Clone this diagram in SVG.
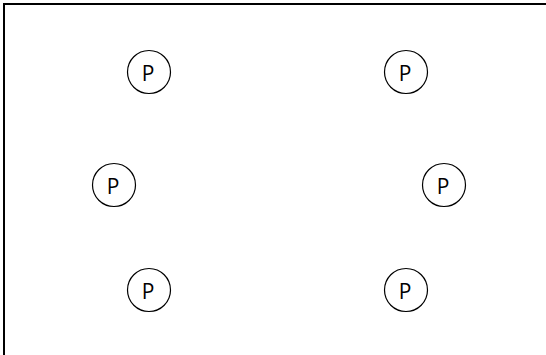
<svg xmlns="http://www.w3.org/2000/svg" width="546" height="355" viewBox="0 0 546 355">
<style>
.n circle{fill:#fff;stroke:#000;stroke-width:1.2}
.n text{font-family:"Open Sans","Noto Sans",sans-serif;font-size:21px;font-weight:500;fill:#000;text-anchor:middle}
</style>
<rect width="546" height="355" fill="#fff"/>
<rect id="frame" x="4" y="4" width="580" height="400" fill="none" stroke="#000" stroke-width="2"/>
<g id="connectors"></g>
<g id="p1" class="n"><circle cx="149" cy="72" r="21.5"/><text x="148" y="81">P</text></g>
<g id="p2" class="n"><circle cx="406" cy="72" r="21.5"/><text x="405" y="81">P</text></g>
<g id="p3" class="n"><circle cx="114" cy="185" r="21.5"/><text x="113" y="194">P</text></g>
<g id="p4" class="n"><circle cx="444" cy="185" r="21.5"/><text x="443" y="194">P</text></g>
<g id="p5" class="n"><circle cx="149" cy="290" r="21.5"/><text x="148" y="299">P</text></g>
<g id="p6" class="n"><circle cx="406" cy="290" r="21.5"/><text x="405" y="299">P</text></g>
</svg>
